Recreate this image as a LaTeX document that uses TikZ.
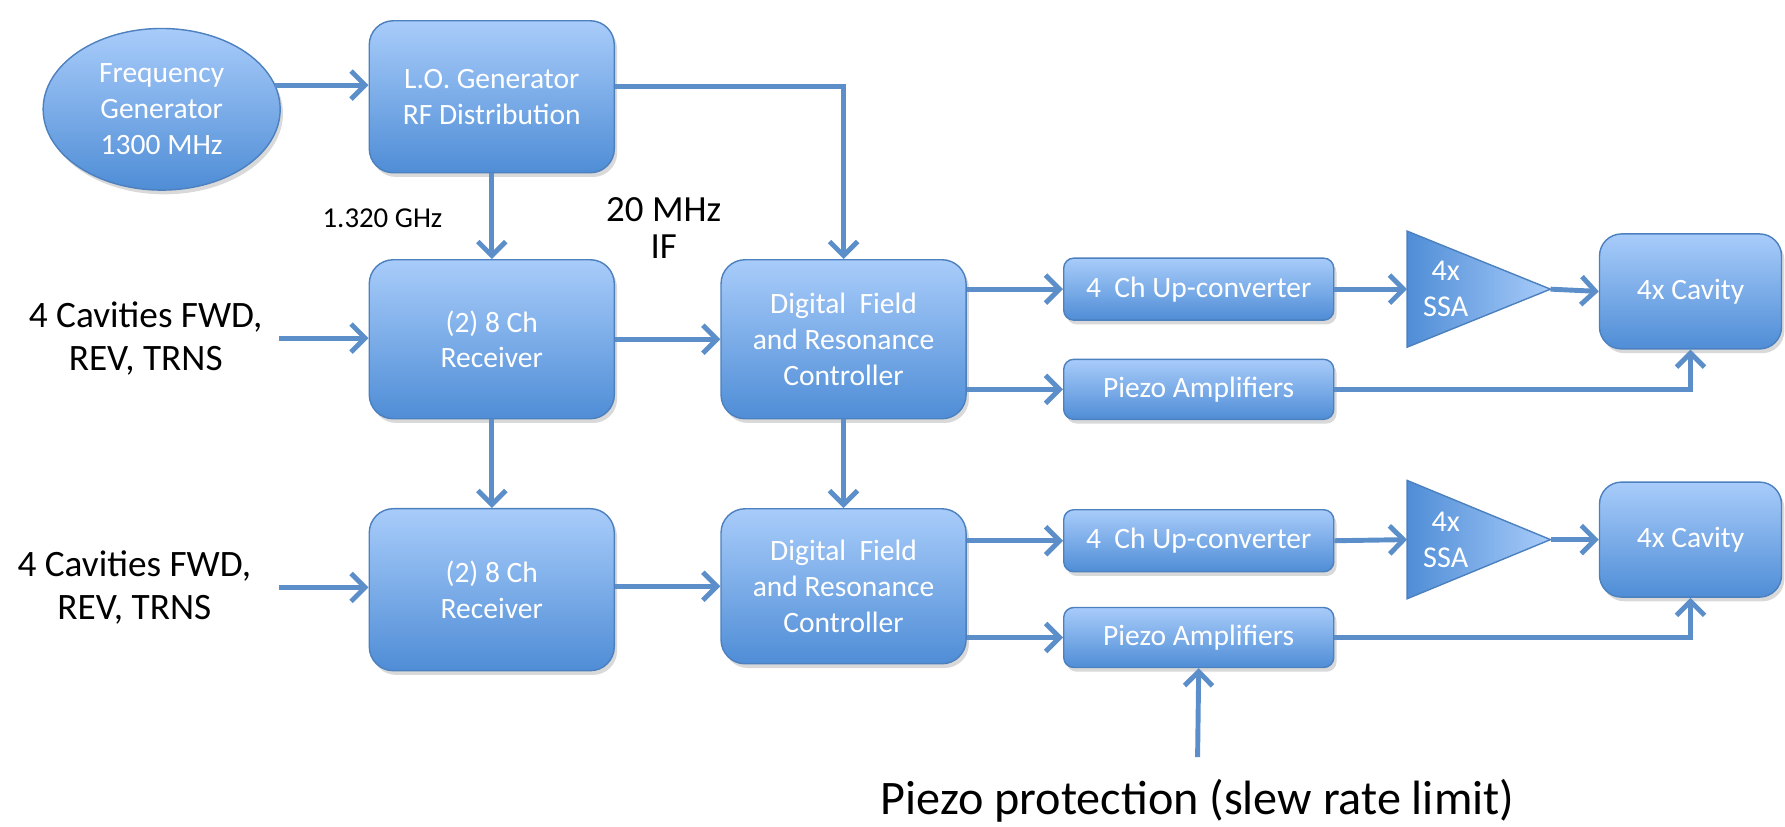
\documentclass[tikz,border=0pt]{standalone}
\usepackage{fontspec}
\setmainfont{Carlito}
\usepackage{tikz}
\usetikzlibrary{calc}
\usetikzlibrary{arrows.meta,shapes,positioning,shadows}
\definecolor{boxtop}{RGB}{168,204,250}
\definecolor{boxbot}{RGB}{79,141,214}
\definecolor{boxline}{RGB}{76,128,190}
\definecolor{wirecol}{RGB}{92,143,201}
\tikzset{>={Straight Barb[length=1.4mm,width=2.8mm]}}
\tikzset{
  blk/.style={draw=boxline, top color=boxtop, bottom color=boxbot, text=white, align=center,
    font=\fontsize{8.4}{10.2}\selectfont,
    drop shadow={shadow xshift=0.8pt, shadow yshift=-1.2pt, opacity=0.3}},
  bigblk/.style={blk, rounded corners=2.4mm, minimum width=2.45cm, minimum height=1.59cm},
  smallblk/.style={blk, rounded corners=1mm, minimum width=2.7cm, minimum height=0.62cm},
  cavblk/.style={blk, rounded corners=2.2mm, minimum width=1.82cm, minimum height=1.15cm},
  link/.style={->, wirecol, line width=1.4pt},
  lbl/.style={align=center, font=\fontsize{10.6}{12.2}\selectfont}
}
\begin{document}
\begin{tikzpicture}[x=0.011384cm, y=-0.011384cm]
  \useasboundingbox (0,0) rectangle (1568,726);
  % sources
  \node[blk, ellipse, minimum width=2.37cm, minimum height=1.5cm] (freq) at (142,96) {Frequency\\Generator\\1300 MHz};
  \node[bigblk, minimum height=1.52cm] (lo) at (432,85) {L.O. Generator\\RF Distribution};
  \node[font=\fontsize{8.2}{9}\selectfont] (lofreq) at (336,192) {1.320 GHz};
  \node[align=center, font=\fontsize{10.5}{10.5}\selectfont] (ifreq) at (583,200) {20 MHz\\IF};
  % upper chain
  \node[lbl] (in1) at (128,297) {4 Cavities FWD,\\REV, TRNS};
  \coordinate (in1out) at (245,297);
  \node[bigblk] (rx1) at (432,298) {(2) 8 Ch\\Receiver};
  \node[bigblk] (dfrc1) at (741,298) {Digital\ \ Field\\and Resonance\\Controller};
  \node[smallblk] (up1) at (1053,254) {4\ \ Ch Up-converter};
  \node[smallblk, minimum height=0.6cm] (pz1) at (1053,342) {Piezo Amplifiers};
  \draw[draw=boxline, left color=boxbot, right color=boxtop] (1236,203) -- (1362,254) -- (1236,305) -- cycle;
  \coordinate (ssa1w) at (1236,254);
  \coordinate (ssa1e) at (1362,254);
  \node[text=white, align=center, font=\fontsize{8.6}{10.2}\selectfont] (ssa1) at (1270,254) {4x\\SSA};
  \node[cavblk] (cav1) at (1485,256) {4x Cavity};
  % lower chain
  \node[lbl] (in2) at (118,516) {4 Cavities FWD,\\REV, TRNS};
  \coordinate (in2out) at (245,516);
  \node[bigblk, minimum height=1.62cm] (rx2) at (432,518) {(2) 8 Ch\\Receiver};
  \node[bigblk, minimum height=1.55cm] (dfrc2) at (741,515) {Digital\ \ Field\\and Resonance\\Controller};
  \node[smallblk] (up2) at (1053,475) {4\ \ Ch Up-converter};
  \node[smallblk, minimum height=0.6cm] (pz2) at (1053,560) {Piezo Amplifiers};
  \draw[draw=boxline, left color=boxbot, right color=boxtop] (1236,422) -- (1362,474) -- (1236,526) -- cycle;
  \coordinate (ssa2w) at (1236,474);
  \coordinate (ssa2e) at (1362,474);
  \node[text=white, align=center, font=\fontsize{8.6}{10.2}\selectfont] (ssa2) at (1270,474) {4x\\SSA};
  \node[cavblk] (cav2) at (1485,474) {4x Cavity};
  \node[font=\fontsize{13.7}{15}\selectfont] (prot) at (1052,703) {Piezo protection (slew rate limit)};
  \coordinate (protin) at (1052,665);
  % connections
  \draw[link] (freq.12) -- (freq.12 -| lo.west);
  \draw[link] ([yshift=3pt]lo.east) -| (dfrc1.north);
  \draw[link] (lo.south) -- (rx1.north);
  \draw[link] (in1out) -- (in1out -| rx1.west);
  \draw[link] (rx1.east) -- (dfrc1.west);
  \draw[link] (up1.west -| dfrc1.east) -- (up1.west);
  \draw[link] (pz1.west -| dfrc1.east) -- (pz1.west);
  \draw[link] (up1.east) -- (ssa1w);
  \draw[link] (ssa1e) -- (cav1.west);
  \draw[link] (pz1.east) -| (cav1.south);
  \draw[link] (rx1.south) -- (rx2.north);
  \draw[link] (dfrc1.south) -- (dfrc2.north);
  \draw[link] (in2out) -- (in2out -| rx2.west);
  \draw[link] (rx2.east |- dfrc2.west) -- (dfrc2.west);
  \draw[link] (up2.west -| dfrc2.east) -- (up2.west);
  \draw[link] (pz2.west -| dfrc2.east) -- (pz2.west);
  \draw[link] (up2.east) -- (ssa2w);
  \draw[link] (ssa2e) -- (cav2.west);
  \draw[link] (pz2.east) -| (cav2.south);
  \draw[link] (protin) -- (pz2.south);
\end{tikzpicture}
\end{document}
